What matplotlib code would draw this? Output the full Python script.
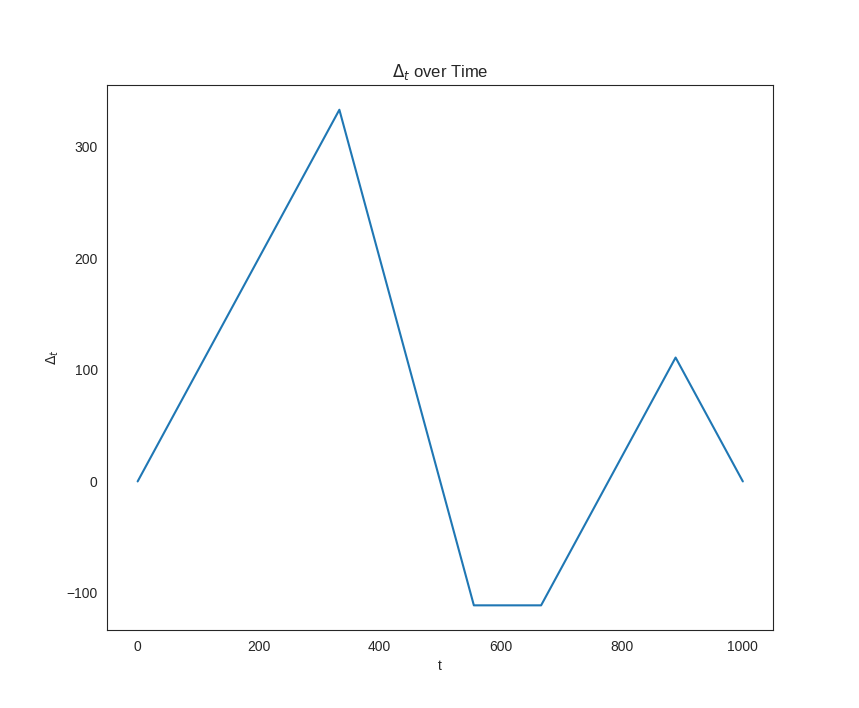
import matplotlib
matplotlib.use("Agg")
import matplotlib.pyplot as plt
import seaborn as sns

sns.set_style("white")
plt.rcParams['font.family'] = ['Liberation Sans', 'DejaVu Sans']

t_vals = [0, 333.33, 555.56, 666.67, 888.89, 1000]
delta_vals = [0, 333.33, -111.11, -111.11, 111.11, 0]

fig = plt.figure(figsize=(8.59, 7.08), dpi=100)
ax = fig.add_subplot(111)
ax.plot(t_vals, delta_vals, color="#1f77b4", linewidth=1.5)
ax.set_title(r"$\Delta_t$ over Time")
ax.set_xlabel("t")
ax.set_ylabel(r"$\Delta_t$")
for s in ax.spines.values():
    s.set_color("#262626")
    s.set_linewidth(0.8)
fig.savefig("out.png", dpi=100)
